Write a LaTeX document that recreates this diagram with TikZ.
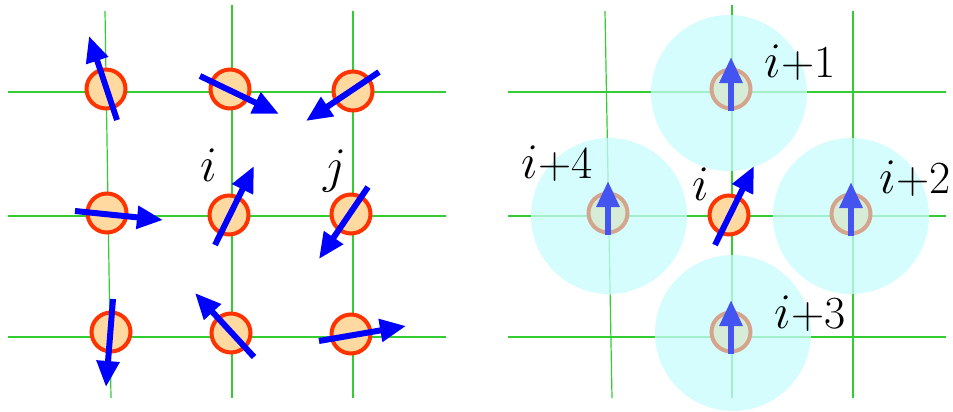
\documentclass[tikz,border=0pt]{standalone}
\usetikzlibrary{arrows.meta}

\definecolor{gridgreen}{RGB}{51,204,51}
\definecolor{siteedge}{RGB}{255,51,0}
\definecolor{sitefill}{RGB}{255,217,160}
\definecolor{spinblue}{RGB}{0,0,255}
\definecolor{ghostblue}{RGB}{68,84,240}
\definecolor{haze}{RGB}{200,252,252}
\definecolor{ghostedge}{RGB}{212,164,140}
\definecolor{ghostfill}{RGB}{214,236,214}

\begin{document}
\begin{tikzpicture}[x=0.5pt, y=-0.5pt,
    lattice/.style={gridgreen, line width=0.6pt},
    site/.style={circle, draw=siteedge, fill=sitefill, line width=2pt, minimum size=19.5pt, inner sep=0pt},
    ghost/.style={site, draw=ghostedge, fill=ghostfill},
    spin/.style={spinblue, line width=3pt, -{Triangle[length=13pt,width=11pt]}},
    ghostspin/.style={spin, ghostblue},
    lab/.style={font=\fontsize{23}{27}\selectfont, anchor=base west, inner sep=0pt}]
    \useasboundingbox (0,0) rectangle (953,412);

    % Left: random spins on the lattice
    \foreach \y in {92,216,337}
        \draw[lattice] (8,\y) -- (446,\y);
    \draw[lattice] (105,11) -- (111,398);
    \draw[lattice] (232,5) -- (232,398);
    \draw[lattice] (353,11) -- (353,398);

    \foreach \name/\x/\y in {tl/106/89, tm/230/89, tr/353/91,
                             ml/107/213, mm/229/215, mr/351/214,
                             bl/111/332, bm/231/333, br/351/334}
        \node[site] (\name) at (\x,\y) {};

    \draw[spin] (117,120) -- (89,36);
    \draw[spin] (200,76) -- (279,114);
    \draw[spin] (379,72) -- (306,121);
    \draw[spin] (75,211) -- (163,220);
    \draw[spin] (215,245) -- (254,166);
    \draw[spin] (368,187) -- (319,259);
    \draw[spin] (113,299) -- (106,387);
    \draw[spin] (254,357) -- (195,293);
    \draw[spin] (319,341) -- (406,326);

    \node[lab] (li) at (200,181) {$i$};
    \node[lab] (lj) at (323,182) {$j$};

    % Right: site i with its mean-field neighbours
    \foreach \y in {92,216,337}
        \draw[lattice] (508,\y) -- (946,\y);
    \draw[lattice] (605,11) -- (612,398);
    \draw[lattice] (732,5) -- (732,398);
    \draw[lattice] (853,11) -- (853,398);

    \foreach \x/\y in {729/93, 609/216, 851/216, 733/333}
        \fill[haze, opacity=0.75] (\x,\y) circle[radius=78];

    \foreach \name/\x/\y in {n1/731/89, n2/851/214, n3/731/332, n4/608/213} {
        \node[ghost] (\name) at (\x,\y) {};
        \draw[ghostspin] ([yshift=-11pt]\name.center) -- ++(0,-54);
    }

    \node[site] (ci) at (729,215) {};
    \draw[spin] (715,245) -- (754,166);

    \node[lab] (ri) at (692,200) {$i$};
    \node[lab] (r1) at (764,77) {$i$+1};
    \node[lab, anchor=base east] (r2) at (951,193) {$i$+2};
    \node[lab] (r3) at (774,328) {$i$+3};
    \node[lab] (r4) at (521,178) {$i$+4};
\end{tikzpicture}
\end{document}
